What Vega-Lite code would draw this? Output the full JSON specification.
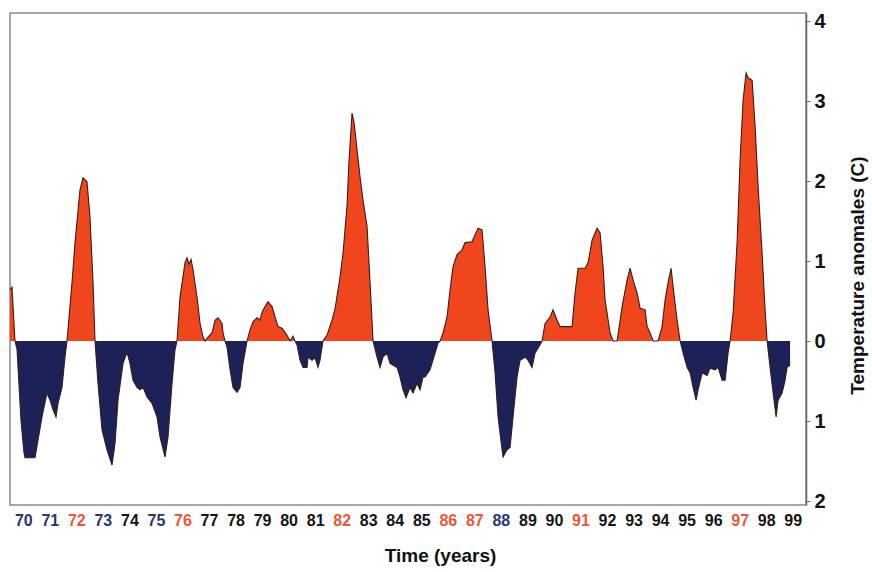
{
  "$schema": "https://vega.github.io/schema/vega-lite/v6.json",
  "width": 796,
  "height": 492,
  "autosize": {"type": "none"},
  "padding": {"left": 10, "top": 13, "right": 66, "bottom": 67},
  "background": "white",
  "config": {
    "font": "Liberation Sans",
    "view": {"stroke": "#8a8a8a", "strokeWidth": 1.5}
  },
  "data": {"values": [
    {"t":1970.000,"v":0.64},{"t":1970.075,"v":0.675},{"t":1970.188,"v":0},{"t":1970.264,"v":-0.1},{"t":1970.415,"v":-1.0},{"t":1970.528,"v":-1.4},{"t":1970.565,"v":-1.46},{"t":1970.942,"v":-1.46},{"t":1971.206,"v":-0.95},{"t":1971.395,"v":-0.65},{"t":1971.508,"v":-0.74},{"t":1971.621,"v":-0.86},{"t":1971.734,"v":-0.95},{"t":1971.809,"v":-0.78},{"t":1971.960,"v":-0.58},{"t":1972.073,"v":-0.2},{"t":1972.148,"v":0},
    {"t":1972.337,"v":0.73},{"t":1972.450,"v":1.23},{"t":1972.638,"v":1.89},{"t":1972.752,"v":2.04},{"t":1972.902,"v":1.99},{"t":1973.015,"v":1.55},{"t":1973.129,"v":0.73},{"t":1973.204,"v":0},
    {"t":1973.317,"v":-0.53},{"t":1973.468,"v":-1.11},{"t":1973.656,"v":-1.36},{"t":1973.845,"v":-1.55},{"t":1973.958,"v":-1.28},{"t":1974.071,"v":-0.74},{"t":1974.259,"v":-0.28},{"t":1974.410,"v":-0.14},{"t":1974.523,"v":-0.28},{"t":1974.636,"v":-0.49},{"t":1974.787,"v":-0.58},{"t":1974.900,"v":-0.61},{"t":1975.013,"v":-0.58},{"t":1975.164,"v":-0.7},{"t":1975.352,"v":-0.78},{"t":1975.541,"v":-0.95},{"t":1975.654,"v":-1.2},{"t":1975.842,"v":-1.45},{"t":1975.956,"v":-1.2},{"t":1976.106,"v":-0.53},{"t":1976.219,"v":-0.11},{"t":1976.295,"v":0},
    {"t":1976.408,"v":0.55},{"t":1976.596,"v":0.98},{"t":1976.672,"v":1.04},{"t":1976.747,"v":0.96},{"t":1976.823,"v":1.02},{"t":1976.898,"v":0.89},{"t":1977.049,"v":0.55},{"t":1977.162,"v":0.22},{"t":1977.275,"v":0.05},{"t":1977.350,"v":0},
    {"t":1977.463,"v":0.05},{"t":1977.614,"v":0.1},{"t":1977.727,"v":0.26},{"t":1977.840,"v":0.29},{"t":1977.991,"v":0.22},{"t":1978.029,"v":0.1},{"t":1978.104,"v":0},
    {"t":1978.180,"v":-0.075},{"t":1978.294,"v":-0.36},{"t":1978.406,"v":-0.58},{"t":1978.556,"v":-0.64},{"t":1978.670,"v":-0.58},{"t":1978.782,"v":-0.28},{"t":1978.934,"v":0},
    {"t":1979.046,"v":0.14},{"t":1979.159,"v":0.24},{"t":1979.310,"v":0.29},{"t":1979.423,"v":0.26},{"t":1979.499,"v":0.36},{"t":1979.612,"v":0.43},{"t":1979.725,"v":0.49},{"t":1979.876,"v":0.43},{"t":1979.989,"v":0.3},{"t":1980.102,"v":0.18},{"t":1980.253,"v":0.16},{"t":1980.365,"v":0.11},{"t":1980.478,"v":0.05},{"t":1980.554,"v":0},{"t":1980.667,"v":0.06},{"t":1980.742,"v":0},
    {"t":1980.818,"v":-0.05},{"t":1980.931,"v":-0.24},{"t":1981.044,"v":-0.33},{"t":1981.195,"v":-0.33},{"t":1981.233,"v":-0.2},{"t":1981.383,"v":-0.24},{"t":1981.496,"v":-0.21},{"t":1981.609,"v":-0.33},{"t":1981.685,"v":-0.24},{"t":1981.760,"v":-0.075},{"t":1981.798,"v":0},
    {"t":1981.949,"v":0.075},{"t":1982.137,"v":0.26},{"t":1982.250,"v":0.4},{"t":1982.325,"v":0.56},{"t":1982.439,"v":0.8},{"t":1982.552,"v":1.1},{"t":1982.703,"v":1.7},{"t":1982.778,"v":2.26},{"t":1982.891,"v":2.85},{"t":1982.967,"v":2.73},{"t":1983.080,"v":2.39},{"t":1983.193,"v":2.05},{"t":1983.306,"v":1.76},{"t":1983.457,"v":1.43},{"t":1983.570,"v":0.73},{"t":1983.683,"v":0},
    {"t":1983.833,"v":-0.2},{"t":1983.946,"v":-0.33},{"t":1984.059,"v":-0.2},{"t":1984.210,"v":-0.15},{"t":1984.323,"v":-0.28},{"t":1984.587,"v":-0.33},{"t":1984.700,"v":-0.45},{"t":1984.813,"v":-0.61},{"t":1984.926,"v":-0.71},{"t":1985.077,"v":-0.58},{"t":1985.190,"v":-0.65},{"t":1985.341,"v":-0.53},{"t":1985.454,"v":-0.61},{"t":1985.567,"v":-0.45},{"t":1985.643,"v":-0.45},{"t":1985.831,"v":-0.36},{"t":1986.020,"v":-0.15},{"t":1986.133,"v":-0.025},{"t":1986.208,"v":0},
    {"t":1986.321,"v":0.1},{"t":1986.472,"v":0.3},{"t":1986.585,"v":0.64},{"t":1986.698,"v":0.93},{"t":1986.849,"v":1.08},{"t":1987.037,"v":1.14},{"t":1987.150,"v":1.23},{"t":1987.414,"v":1.24},{"t":1987.527,"v":1.33},{"t":1987.640,"v":1.41},{"t":1987.791,"v":1.39},{"t":1987.904,"v":0.93},{"t":1988.017,"v":0.39},{"t":1988.168,"v":0},
    {"t":1988.281,"v":-0.4},{"t":1988.394,"v":-0.95},{"t":1988.545,"v":-1.36},{"t":1988.583,"v":-1.45},{"t":1988.733,"v":-1.36},{"t":1988.846,"v":-1.33},{"t":1988.959,"v":-0.95},{"t":1989.110,"v":-0.45},{"t":1989.224,"v":-0.24},{"t":1989.412,"v":-0.2},{"t":1989.525,"v":-0.24},{"t":1989.676,"v":-0.33},{"t":1989.789,"v":-0.15},{"t":1989.902,"v":-0.09},{"t":1990.053,"v":0},
    {"t":1990.166,"v":0.22},{"t":1990.354,"v":0.3},{"t":1990.467,"v":0.39},{"t":1990.618,"v":0.26},{"t":1990.731,"v":0.18},{"t":1991.183,"v":0.18},{"t":1991.296,"v":0.6},{"t":1991.410,"v":0.91},{"t":1991.674,"v":0.91},{"t":1991.787,"v":0.98},{"t":1991.937,"v":1.26},{"t":1992.126,"v":1.41},{"t":1992.239,"v":1.35},{"t":1992.352,"v":0.93},{"t":1992.428,"v":0.51},{"t":1992.503,"v":0.35},{"t":1992.616,"v":0.1},{"t":1992.729,"v":0},{"t":1992.880,"v":0},
    {"t":1993.069,"v":0.43},{"t":1993.257,"v":0.76},{"t":1993.370,"v":0.91},{"t":1993.484,"v":0.76},{"t":1993.634,"v":0.6},{"t":1993.747,"v":0.41},{"t":1993.936,"v":0.39},{"t":1994.011,"v":0.18},{"t":1994.124,"v":0.1},{"t":1994.238,"v":0},{"t":1994.426,"v":0},
    {"t":1994.576,"v":0.18},{"t":1994.689,"v":0.51},{"t":1994.802,"v":0.73},{"t":1994.915,"v":0.91},{"t":1994.991,"v":0.68},{"t":1995.142,"v":0.26},{"t":1995.255,"v":0},
    {"t":1995.368,"v":-0.15},{"t":1995.519,"v":-0.33},{"t":1995.632,"v":-0.4},{"t":1995.745,"v":-0.58},{"t":1995.858,"v":-0.74},{"t":1995.933,"v":-0.61},{"t":1996.084,"v":-0.4},{"t":1996.273,"v":-0.43},{"t":1996.385,"v":-0.34},{"t":1996.574,"v":-0.36},{"t":1996.687,"v":-0.33},{"t":1996.838,"v":-0.49},{"t":1996.951,"v":-0.49},{"t":1997.064,"v":-0.15},{"t":1997.139,"v":0},
    {"t":1997.252,"v":0.35},{"t":1997.403,"v":1.23},{"t":1997.516,"v":2.26},{"t":1997.629,"v":3.01},{"t":1997.742,"v":3.35},{"t":1997.818,"v":3.29},{"t":1997.969,"v":3.26},{"t":1998.082,"v":2.68},{"t":1998.195,"v":1.93},{"t":1998.345,"v":1.1},{"t":1998.458,"v":0.39},{"t":1998.534,"v":0},
    {"t":1998.647,"v":-0.33},{"t":1998.760,"v":-0.65},{"t":1998.873,"v":-0.95},{"t":1998.948,"v":-0.74},{"t":1999.099,"v":-0.65},{"t":1999.212,"v":-0.49},{"t":1999.287,"v":-0.33},{"t":1999.400,"v":-0.3}
  ]},
  "encoding": {
    "x": {
      "field": "t", "type": "quantitative",
      "scale": {"domain": [1970, 2000], "nice": false, "zero": false},
      "axis": {
        "orient": "bottom",
        "values": [1970.5,1971.5,1972.5,1973.5,1974.5,1975.5,1976.5,1977.5,1978.5,1979.5,1980.5,1981.5,1982.5,1983.5,1984.5,1985.5,1986.5,1987.5,1988.5,1989.5,1990.5,1991.5,1992.5,1993.5,1994.5,1995.5,1996.5,1997.5,1998.5,1999.5],
        "labelExpr": "substring(toString(floor(datum.value)), 2)",
        "grid": false, "ticks": false, "domain": false,
        "labelFont": "Liberation Sans", "labelFontSize": 16, "labelFontWeight": "bold",
        "labelPadding": 7, "labelOverlap": false, "labelFlush": false,
        "labelColor": {"condition": [
          {"test": "indexof([1972,1976,1982,1986,1987,1991,1997], floor(datum.value)) >= 0", "value": "#e8583a"},
          {"test": "indexof([1970,1971,1973,1975,1988], floor(datum.value)) >= 0", "value": "#2a3770"}
        ], "value": "#141414"},
        "title": "Time (years)",
        "titleFont": "Liberation Sans", "titleFontSize": 19, "titleFontWeight": "bold", "titleColor": "#111",
        "titleX": 430, "titleY": 50, "titleBaseline": "middle", "titleAlign": "center"
      }
    },
    "y": {
      "field": "v", "type": "quantitative",
      "scale": {"domain": [-2.05, 4.1], "nice": false, "zero": false},
      "axis": {
        "orient": "right",
        "values": [-2, -1, 0, 1, 2, 3, 4],
        "labelExpr": "abs(datum.value)",
        "grid": false, "domain": true, "domainColor": "#666", "domainWidth": 1.5,
        "ticks": true, "tickSize": 4, "tickColor": "#666",
        "labelFont": "Liberation Sans", "labelFontSize": 20, "labelFontWeight": "bold", "labelColor": "#111",
        "labelPadding": 4,
        "title": "Temperature anomales (C)",
        "titleFont": "Liberation Sans", "titleFontSize": 19, "titleFontWeight": "bold", "titleColor": "#111",
        "titleAngle": 270, "titleX": 51, "titleY": 262, "titleBaseline": "middle", "titleAlign": "center"
      }
    }
  },
  "layer": [
    {
      "transform": [{"filter": "datum.v >= 0"}],
      "mark": {"type": "area", "color": "#f0461e", "interpolate": "linear"},
      "encoding": {"y2": {"datum": 0}}
    },
    {
      "transform": [{"filter": "datum.v <= 0"}],
      "mark": {"type": "area", "color": "#1c2257", "interpolate": "linear"},
      "encoding": {"y2": {"datum": 0}}
    },
    {
      "mark": {"type": "line", "color": "#3a1c18", "strokeWidth": 1.1, "interpolate": "linear"},
      "encoding": {}
    },
    {
      "data": {"values": [{}]},
      "mark": {"type": "rule", "color": "#1a1a3a", "strokeWidth": 1.5},
      "encoding": {"x": {"datum": 1970}, "x2": {"datum": 2000}, "y": {"datum": 0}}
    }
  ]
}
